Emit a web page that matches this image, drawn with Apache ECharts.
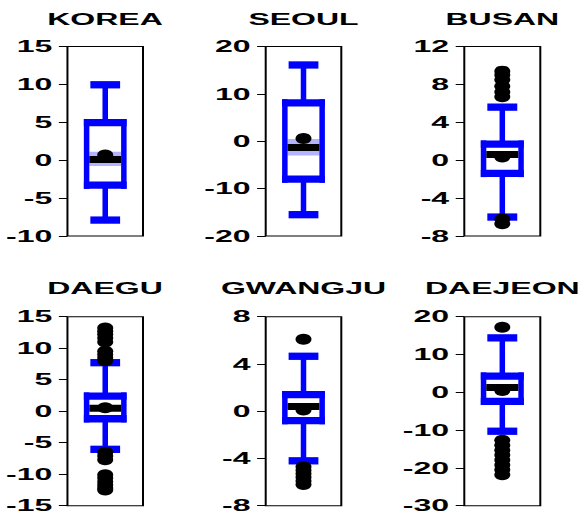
<!DOCTYPE html>
<html>
<head>
<meta charset="utf-8">
<script src="https://cdn.jsdelivr.net/npm/echarts@6/dist/echarts.min.js"></script>
<style>
  html, body { margin: 0; padding: 0; background: #fff; overflow: hidden; }
  /* the chart is laid out at half width and stretched horizontally */
  #chart { width: 291px; height: 515px; transform: scaleX(2); transform-origin: 0 0; }
</style>
</head>
<body>
<div id="chart"></div>
<script>
// Panel names
const regions = ['KOREA', 'SEOUL', 'BUSAN', 'DAEGU', 'GWANGJU', 'DAEJEON'];

// Five-number summaries: lower whisker, Q1, median, Q3, upper whisker
const lowerWhisker = [-7.9, -15.5, -6.0, -6.05, -4.2, -10.3];
const q1Values     = [-3.3, -8.0, -1.4, -1.2, -0.8, -2.4];
const medians      = [0.1, -1.3, 0.6, 0.45, 0.4, 1.3];
const q3Values     = [4.95, 8.1, 1.7, 2.4, 1.4, 4.3];
const upperWhisker = [9.95, 16.1, 5.6, 7.7, 4.65, 14.4];

// Confidence band around the median
const bandLow  = [-0.75, -3.0, 0.5, 0.35, 0.3, 0.9];
const bandHigh = [1.1, 0.5, 0.7, 0.55, 0.5, 1.7];

// Means
const means = [0.7, 0.6, 0.35, 0.55, 0.1, 0.5];

// Outlying observations
const outliers = [
  [],
  [],
  [9.4, 9.0, 8.5, 7.8, 7.2, 6.7, -6.2, -6.7],
  [13.2, 12.7, 12.2, 11.6, 11.0, 9.5, 9.0, 8.5, 8.0, -6.5, -7.1, -7.7, -10.1, -10.6, -11.2, -11.7, -12.2, -12.5],
  [6.1, -4.7, -5.0, -5.3, -5.6, -5.9, -6.2],
  [17.2, -12.7, -14.0, -15.3, -16.6, -17.9, -19.2, -20.5, -21.8]
];

// Y axis ranges and tick steps
const axisMin  = [-10, -20, -8, -15, -8, -30];
const axisMax  = [15, 20, 12, 15, 8, 20];
const axisStep = [5, 10, 4, 5, 4, 10];

// ---- layout (in the unstretched half-width coordinate space) ----
const colLeft  = [33.5, 132.85, 232.15];
const colWidth = [38, 37.8, 38];
const rowTop   = [46.5, 316.7];
const rowHeight = [189.5, 189];
const titleY   = [19, 288];

const BLUE = '#0000ff';
const H_WIDTH = 7.3;   // horizontal stroke
const V_WIDTH = 2.75;  // vertical stroke (doubled by the stretch)

function seg(x1, y1, x2, y2, w, color) {
  return { type: 'line', shape: { x1, y1, x2, y2 }, style: { stroke: color, lineWidth: w, lineCap: 'butt' } };
}

function renderBox(params, api) {
  const x = api.value(0);
  const pLo = api.coord([x, api.value(1)]);
  const yLo = pLo[1];
  const yQ1 = api.coord([x, api.value(2)])[1];
  const yMed = api.coord([x, api.value(3)])[1];
  const yQ3 = api.coord([x, api.value(4)])[1];
  const yHi = api.coord([x, api.value(5)])[1];
  const yBL = api.coord([x, api.value(6)])[1];
  const yBH = api.coord([x, api.value(7)])[1];
  const cx = pLo[0];
  const band = api.size([1, 0])[0];
  const half = band * 0.283;
  const cap = band * 0.197;
  const c = [];
  // band around the median
  c.push({ type: 'rect', shape: { x: cx - half + V_WIDTH, y: yBH, width: 2 * (half - V_WIDTH), height: yBL - yBH },
           style: { fill: '#b3b3ff' } });
  // whiskers
  c.push(seg(cx, yHi, cx, yQ3, V_WIDTH, BLUE));
  c.push(seg(cx, yQ1, cx, yLo, V_WIDTH, BLUE));
  c.push(seg(cx - cap, yHi, cx + cap, yHi, H_WIDTH, BLUE));
  c.push(seg(cx - cap, yLo, cx + cap, yLo, H_WIDTH, BLUE));
  // box
  c.push(seg(cx - half, yQ3, cx + half, yQ3, H_WIDTH, BLUE));
  c.push(seg(cx - half, yQ1, cx + half, yQ1, H_WIDTH, BLUE));
  c.push(seg(cx - half + V_WIDTH / 2, yQ3 - H_WIDTH / 2, cx - half + V_WIDTH / 2, yQ1 + H_WIDTH / 2, V_WIDTH, BLUE));
  c.push(seg(cx + half - V_WIDTH / 2, yQ3 - H_WIDTH / 2, cx + half - V_WIDTH / 2, yQ1 + H_WIDTH / 2, V_WIDTH, BLUE));
  // median
  c.push(seg(cx - half + V_WIDTH, yMed, cx + half - V_WIDTH, yMed, 7, '#000'));
  return { type: 'group', children: c };
}

const grids = [], xAxes = [], yAxes = [], series = [], graphics = [];

regions.forEach((name, i) => {
  const col = i % 3, row = Math.floor(i / 3);
  grids.push({
    left: colLeft[col], top: rowTop[row], width: colWidth[col], height: rowHeight[row],
    show: true, borderColor: '#000', borderWidth: 1, backgroundColor: 'transparent'
  });
  xAxes.push({
    type: 'category', gridIndex: i, data: [name], boundaryGap: true,
    axisLine: { show: false }, axisTick: { show: false }, axisLabel: { show: false }
  });
  yAxes.push({
    type: 'value', gridIndex: i, min: axisMin[i], max: axisMax[i], interval: axisStep[i],
    axisLine: { show: false },
    axisTick: { show: true, length: 4.3, lineStyle: { color: '#000', width: 1 } },
    axisLabel: { color: '#000', fontWeight: 'bold', fontSize: 16, fontFamily: 'Liberation Sans', margin: 7.6 },
    splitLine: { show: false }
  });
  series.push({
    type: 'custom', xAxisIndex: i, yAxisIndex: i, renderItem: renderBox, z: 2,
    data: [[0, lowerWhisker[i], q1Values[i], medians[i], q3Values[i], upperWhisker[i], bandLow[i], bandHigh[i]]]
  });
  series.push({
    type: 'scatter', xAxisIndex: i, yAxisIndex: i, z: 3,
    symbol: 'circle', symbolSize: [8, 11], itemStyle: { color: '#000', opacity: 1 },
    data: [[0, means[i]]].concat(outliers[i].map(v => [0, v]))
  });
  graphics.push({
    type: 'text', x: colLeft[col] + colWidth[col] / 2, y: titleY[row],
    style: { text: name, fill: '#000', font: 'bold 16px "Liberation Sans"',
             align: 'center', verticalAlign: 'middle', textAlign: 'center', textVerticalAlign: 'middle' }
  });
});

const chart = echarts.init(document.getElementById('chart'), null, { renderer: 'svg' });
chart.setOption({
  animation: false,
  backgroundColor: '#fff',
  grid: grids,
  xAxis: xAxes,
  yAxis: yAxes,
  series: series,
  graphic: graphics
});
</script>
</body>
</html>
